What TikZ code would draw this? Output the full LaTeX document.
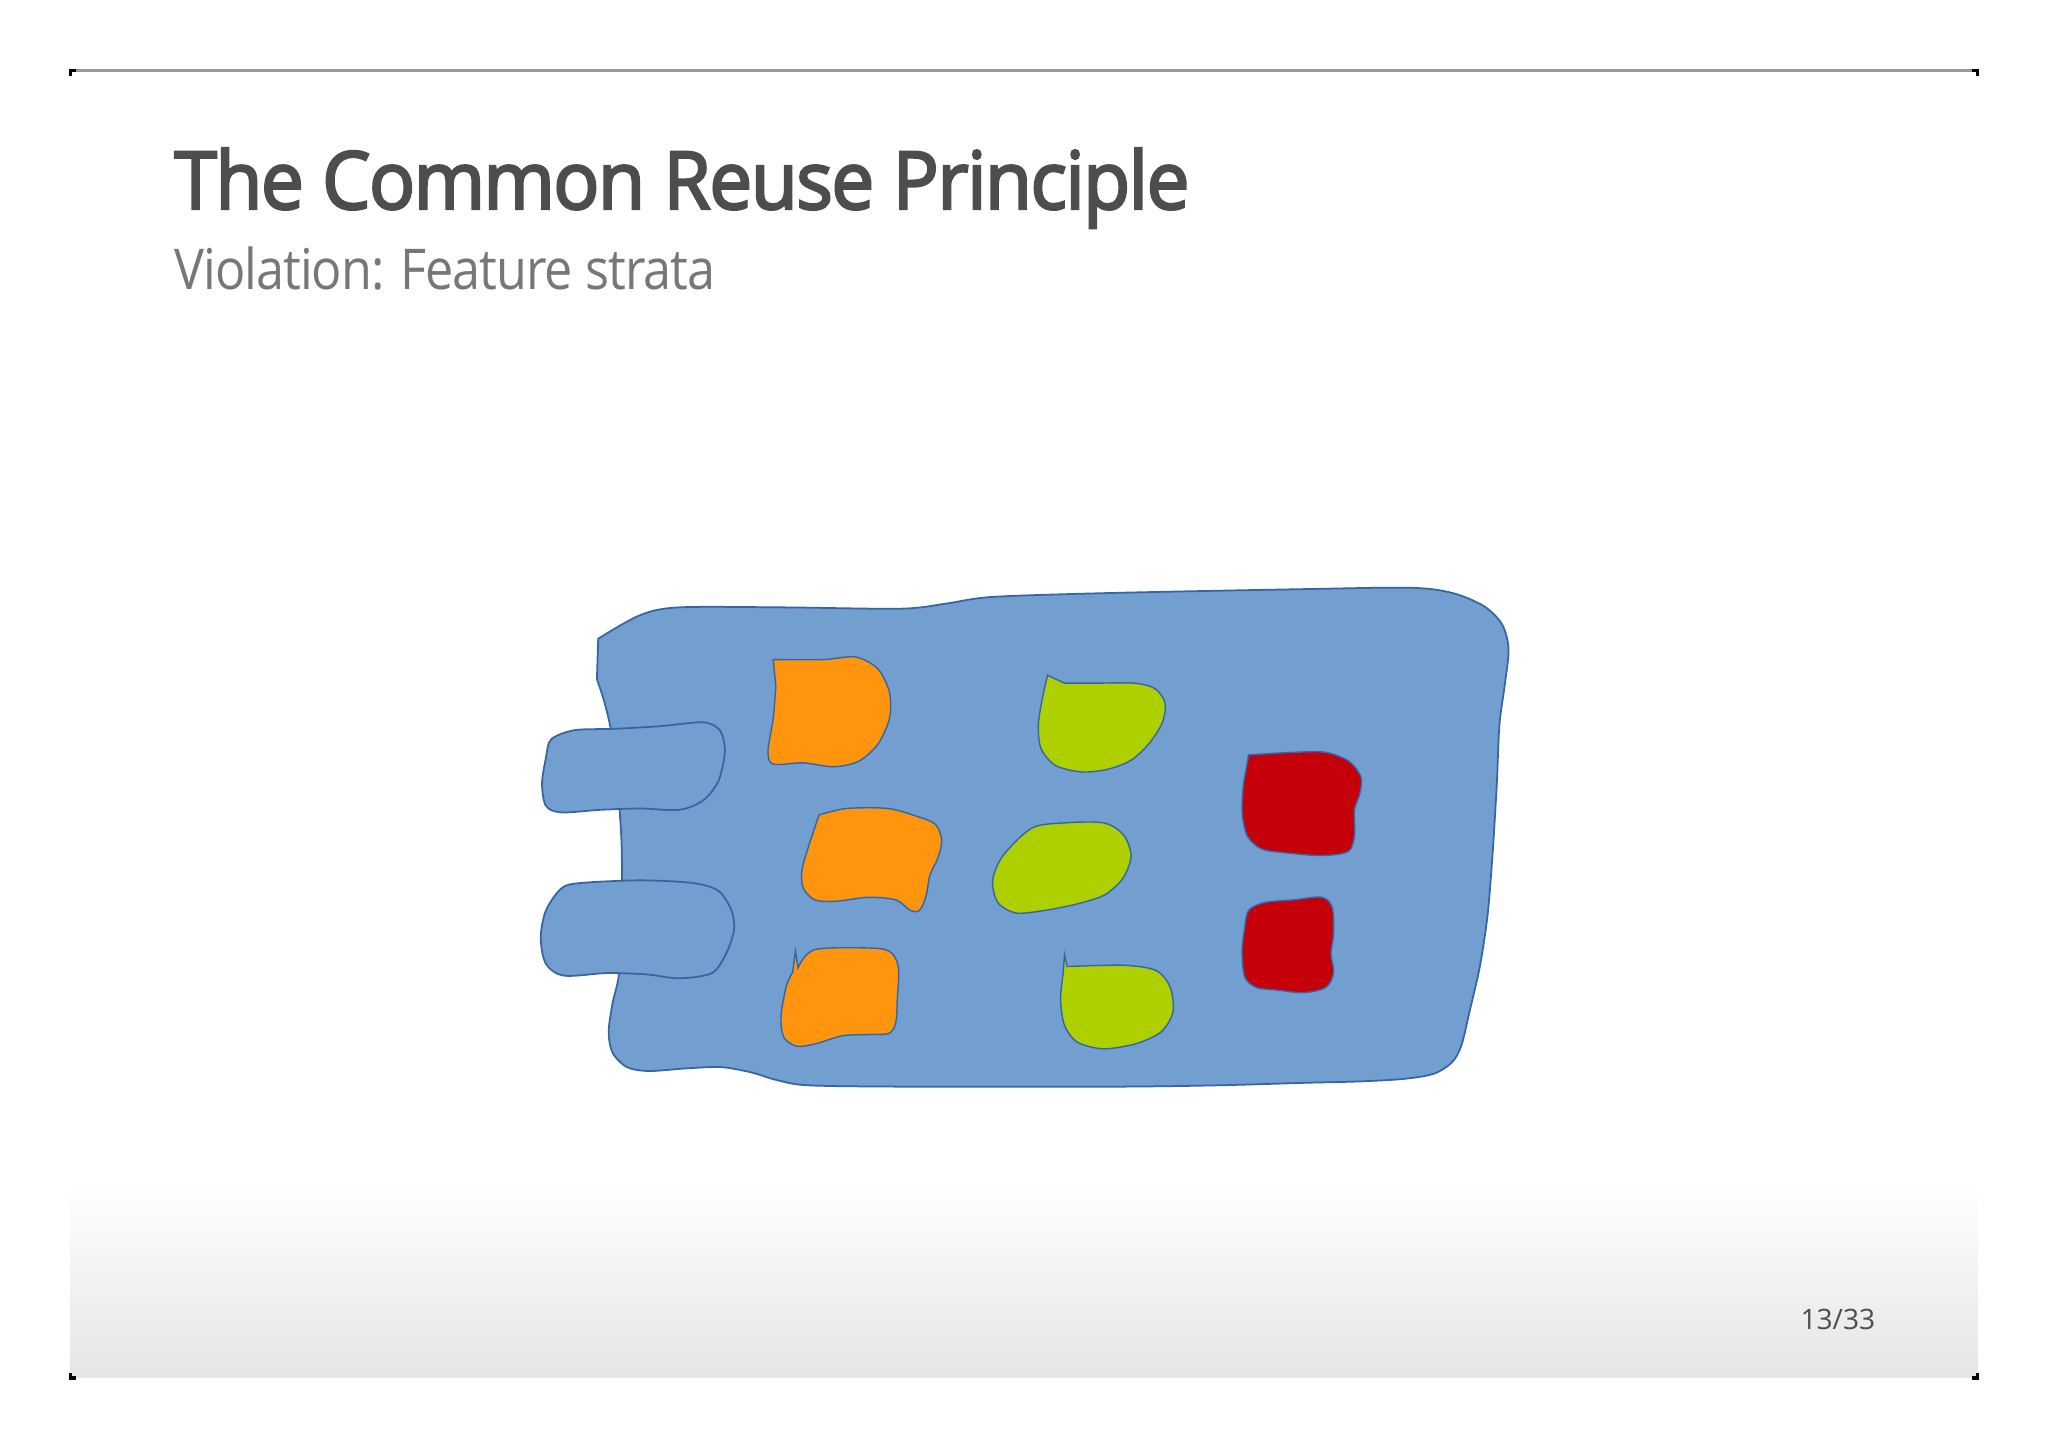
\documentclass[tikz,border=0pt]{standalone}
\usepackage{fontspec}
\usepackage{graphicx}
\setmainfont{Open Sans}
\newfontfamily\headfont{Open Sans}[FakeBold=3,LetterSpace=-2]
\newfontfamily\subheadfont{Open Sans}[LetterSpace=-2]
\usepackage{tikz}
\usetikzlibrary{calc}
\definecolor{skyblue}{HTML}{729FCF}
\definecolor{edgeblue}{HTML}{3465A4}
\definecolor{featorange}{HTML}{FF950E}
\definecolor{featgreen}{HTML}{AECF00}
\definecolor{featred}{HTML}{C5000B}
\definecolor{titlegray}{HTML}{4D4D4D}
\definecolor{subgray}{HTML}{777777}
\definecolor{footgray}{HTML}{E5E5E7}
\tikzstyle{package}=[draw=edgeblue,fill=skyblue,line width=0.5pt]
\tikzstyle{orangepart}=[draw=edgeblue,fill=featorange,line width=0.4pt]
\tikzstyle{greenpart}=[draw=edgeblue,fill=featgreen,line width=0.4pt]
\tikzstyle{redpart}=[draw=edgeblue,fill=featred,line width=0.4pt]
\tikzstyle{slidetext}=[inner sep=0pt,anchor=base west]
\newcommand\fitwidth[2]{\resizebox{#1}{\height}{#2}}

\begin{document}
\begin{tikzpicture}[x=0.01306cm,y=-0.01306cm]
    \useasboundingbox (0,0) rectangle (1568,1109);
    % slide frame and footer
    \shade[top color=white,bottom color=footgray] (54,905) rectangle (1514,1055);
    \draw[gray!80,line width=0.6pt] (54,54) -- (1514,54);
    \draw[line width=1pt] (54,58) -- (54,54) -- (58,54);
    \draw[line width=1pt] (1510,54) -- (1514,54) -- (1514,58);
    \draw[line width=1pt] (54,1051) -- (54,1055) -- (58,1055);
    \draw[line width=1pt] (1510,1055) -- (1514,1055) -- (1514,1051);
    % headings
    \node [slidetext,text=titlegray] (title) at (133,160) {
        \fitwidth{10.15cm}{\fontsize{22.8}{26}\headfont The Common Reuse Principle}
    };
    \node [slidetext,text=subgray] (subtitle) at (133,222) {
        \fitwidth{5.41cm}{\fontsize{16}{19}\subheadfont Violation: Feature strata}
    };
    \node [slidetext,text=titlegray] (pagenum) at (1378,1018) {\fontsize{8}{10}\selectfont 13/33};
    % the package
    \draw[package] plot[smooth,tension=0.5] coordinates {(458,489) (490,471) (520,465) (600,465) (690,466)
        (725,462) (760,457) (850,454) (1000,451) (1080,450) (1112,454) (1136,464) (1150,478) (1155,497)
        (1152,525) (1148,555) (1146,600) (1143,650) (1139,700) (1133,740) (1125,775) (1119,800) (1112,813)
        (1098,822) (1075,826) (1040,828) (1000,829) (930,831) (850,832) (700,832) (620,831) (595,827)
        (575,821) (552,817) (525,818) (497,820) (480,817) (469,806) (466,790) (469,768) (474,745) (476,700)
        (476,650) (474,615) (471,580) (467,555) (462,535) (457,520)} -- cycle;
    % interfaces
    \draw[package] plot[smooth cycle,tension=0.5] coordinates {(422,566) (440,559) (470,558) (505,556)
        (538,553) (551,559) (555,575) (550,598) (538,613) (520,620) (490,619) (460,620) (430,622)
        (418,617) (415,600) (418,580)};
    \draw[package] plot[smooth cycle,tension=0.5] coordinates {(430,680) (445,676) (490,674) (530,676)
        (550,682) (560,697) (562,712) (556,730) (545,745) (520,749) (495,746) (465,745) (432,747)
        (418,738) (414,718) (418,697)};
    % feature A
    \draw[orangepart] plot[smooth,tension=0.5] coordinates {(592,505) (630,505) (655,503) (672,512)
        (681,530) (681,550) (672,570) (657,583) (638,587) (615,584) (592,585) (588,575) (592,550)
        (594,525)} -- cycle;
    \draw[orangepart] plot[smooth,tension=0.5] coordinates {(627,624) (648,619) (680,619) (702,625)
        (716,631) (721,643) (718,657) (712,670) (709,686) (704,697) (697,697) (686,689) (665,687)
        (640,690) (624,689) (615,680) (614,666) (620,645)} -- cycle;
    \draw[orangepart] plot[smooth,tension=0.5] coordinates {(611,741) (624,727) (670,726) (683,730)
        (688,742) (687,765) (686,782) (681,791) (665,792) (645,793) (625,799) (610,801) (600,794)
        (598,778) (602,755) (607,744)} -- (609,728) -- cycle;
    % feature B
    \draw[greenpart] plot[smooth,tension=0.5] coordinates {(802,517) (798,535) (795,555) (797,573)
        (808,586) (828,591) (848,589) (866,582) (880,569) (890,553) (892,538) (884,527) (868,523)
        (840,523) (815,523)} -- cycle;
    \draw[greenpart] plot[smooth cycle,tension=0.5] coordinates {(790,634) (815,630) (845,630) (860,639)
        (866,655) (860,672) (846,685) (825,692) (800,697) (778,699) (764,691) (760,674) (768,655)};
    \draw[greenpart] plot[smooth,tension=0.5] coordinates {(817,740) (860,739) (885,743) (896,756)
        (898,775) (889,790) (870,799) (845,803) (825,798) (815,785) (812,765) (814,745)} -- (815,731) -- cycle;
    % feature C
    \draw[redpart] plot[smooth,tension=0.5] coordinates {(956,578) (990,576) (1015,576) (1033,583)
        (1042,595) (1041,608) (1037,620) (1037,640) (1032,652) (1012,655) (985,653) (966,650) (955,640)
        (951,622) (952,600)} -- cycle;
    \draw[redpart] plot[smooth cycle,tension=0.5] coordinates {(956,697) (968,691) (990,689) (1012,687)
        (1020,695) (1021,715) (1019,730) (1021,745) (1015,756) (998,760) (978,758) (962,756) (953,748)
        (951,728) (953,710)};
\end{tikzpicture}
\end{document}
